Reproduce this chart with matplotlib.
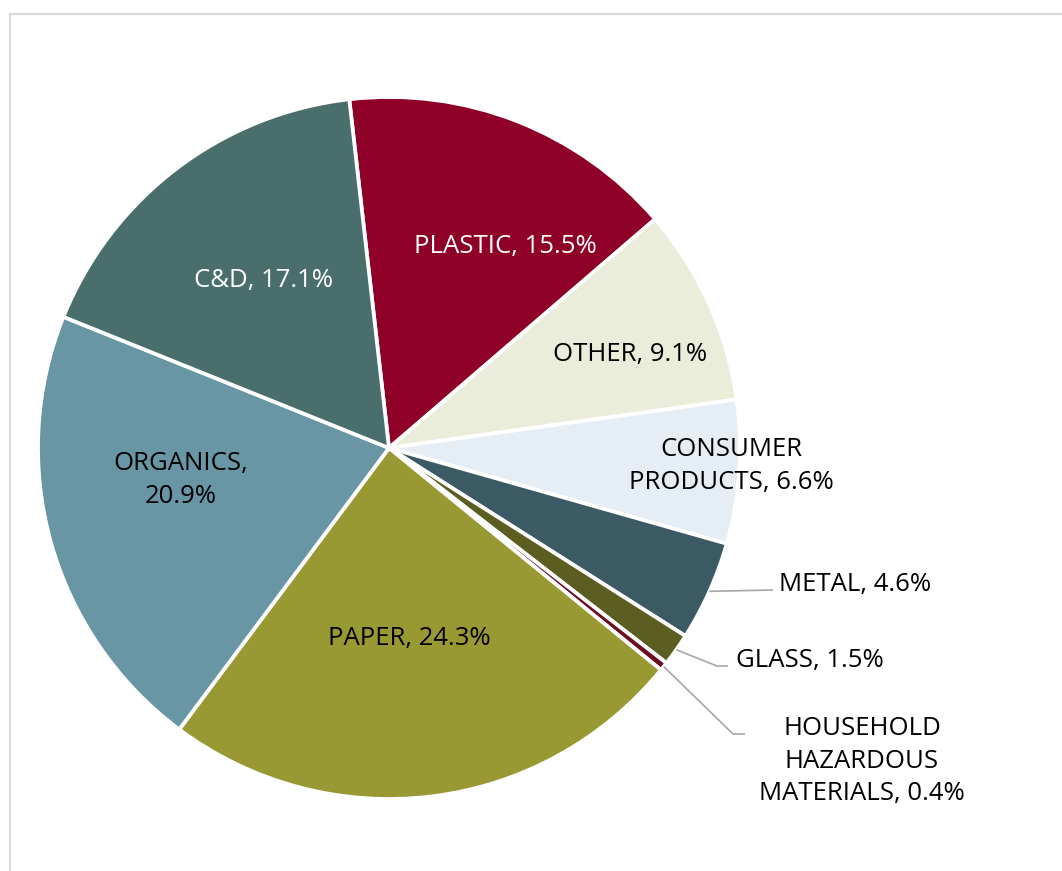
import numpy as np
import matplotlib
matplotlib.use("Agg")
import matplotlib.pyplot as plt
from matplotlib.patches import Rectangle

categories = ["PLASTIC", "OTHER", "CONSUMER\nPRODUCTS", "METAL", "GLASS",
              "HOUSEHOLD\nHAZARDOUS\nMATERIALS", "PAPER", "ORGANICS,\n", "C&D"]
values = [15.5, 9.1, 6.6, 4.6, 1.5, 0.4, 24.3, 20.9, 17.1]
colors = ["#8F0029", "#E9EDD9", "#E5EEF4", "#3C5A64", "#5C5E21",
          "#6A0E22", "#999933", "#6896A5", "#496E6B"]
text_colors = ["white", "black", "black", "black", "black",
               "black", "black", "black", "white"]

W, H = 1062, 871
fig = plt.figure(figsize=(W / 100, H / 100), dpi=100)
ax = fig.add_axes([0, 0, 1, 1])
ax.set_xlim(0, W)
ax.set_ylim(0, H)
ax.set_aspect("equal")
ax.axis("off")

# chart area border
ax.add_patch(Rectangle((9.5, -10), W + 20, H - 14 + 10, fill=False,
                       edgecolor="#D9D9D9", linewidth=1.6))

cx, cy, R = 389, H - 448, 351
startangle = 96.5
wedges, _ = ax.pie(values, colors=colors, startangle=startangle, counterclock=False,
                   center=(cx, cy), radius=R, frame=True,
                   wedgeprops=dict(edgecolor="white", linewidth=2.7))
ax.set_xlim(0, W)
ax.set_ylim(0, H)
ax.axis("off")

font = "Open Sans"
fs = 18.5
ls = 1.4
dy = 3  # small vertical text offset (px)

def fmt(name, v):
    if name.endswith(",\n"):
        return f"{name}{v}%"
    return f"{name}, {v}%"

# inside labels: (index, x, y) in pixel coords
inside = {0: (505, 244), 1: (630, 351), 2: (731, 463), 6: (409, 635),
          7: (181, 477), 8: (263, 277)}
for i, (px, py) in inside.items():
    ax.text(px, H - py - dy, fmt(categories[i], values[i]), ha="center", va="center",
            fontsize=fs, family=font, color=text_colors[i], linespacing=ls)

# outside labels with leader lines
outside = {3: ((779, 581), "left", [(773, 590)]),
           4: ((736, 657), "left", [(717, 666), (728, 666)]),
           5: ((862, 758), "center", [(733, 734), (745, 734)])}
for i, ((px, py), ha, pts) in outside.items():
    w = wedges[i]
    mid = np.deg2rad((w.theta1 + w.theta2) / 2)
    sx, sy = cx + R * np.cos(mid), cy + R * np.sin(mid)
    xs = [sx] + [p[0] for p in pts]
    ys = [sy] + [H - p[1] for p in pts]
    ax.plot(xs, ys, color="#A6A6A6", linewidth=1.2, solid_capstyle="butt")
    ax.text(px, H - py - dy, fmt(categories[i], values[i]), ha=ha, va="center",
            fontsize=fs, family=font, color="black", linespacing=ls,
            multialignment="center")

fig.savefig("out.png", dpi=100)
